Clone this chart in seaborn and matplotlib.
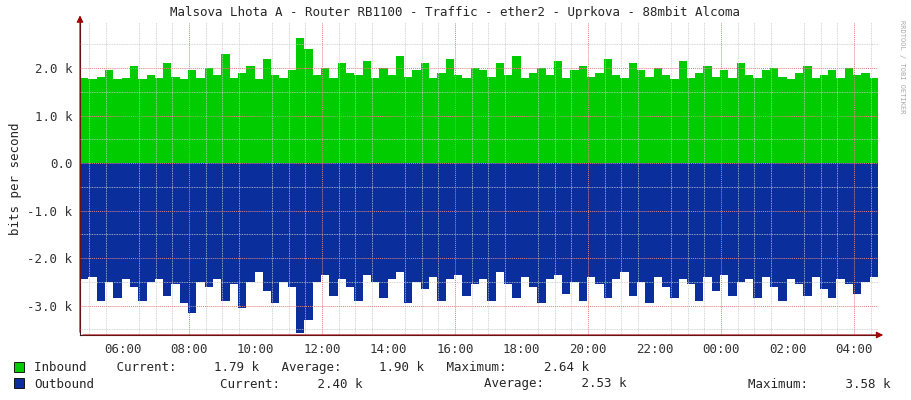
"""RRDtool-style traffic graph: inbound/outbound bits per second over 24 h."""

import matplotlib

matplotlib.use("Agg")

import matplotlib.pyplot as plt
import numpy as np
import seaborn as sns
from matplotlib.patches import Rectangle

sns.set_style("white")
plt.rcParams["font.family"] = ["DejaVu Sans Mono"]

# 15-minute samples, hours since midnight of day 1 (04:43 .. 04:41 next day)
START_HOUR = 4.72
STEP_HOURS = 0.25

INBOUND_K = [
    1.80, 1.78, 1.82, 1.95, 1.78, 1.80, 2.05, 1.78, 1.85, 1.80, 2.10, 1.82, 1.78, 1.95, 1.80, 2.00,
    1.85, 2.30, 1.80, 1.90, 2.05, 1.78, 2.20, 1.85, 1.80, 1.95, 2.64, 2.40, 1.85, 2.00, 1.80, 2.10,
    1.90, 1.85, 2.15, 1.80, 2.00, 1.85, 2.25, 1.82, 1.95, 2.10, 1.80, 1.90, 2.20, 1.85, 1.80, 2.00,
    1.95, 1.82, 2.10, 1.85, 2.25, 1.80, 1.90, 2.00, 1.85, 2.15, 1.80, 1.95, 2.05, 1.82, 1.90, 2.20,
    1.85, 1.80, 2.10, 1.95, 1.82, 2.00, 1.85, 1.78, 2.15, 1.80, 1.90, 2.05, 1.82, 1.95, 1.80, 2.10,
    1.85, 1.80, 1.95, 2.00, 1.82, 1.78, 1.90, 2.05, 1.80, 1.85, 1.95, 1.80, 2.00, 1.85, 1.90, 1.79,
]
OUTBOUND_K = [
    2.45, 2.40, 2.90, 2.50, 2.85, 2.45, 2.60, 2.90, 2.50, 2.45, 2.80, 2.55, 2.95, 3.15, 2.50, 2.60,
    2.45, 2.90, 2.55, 3.05, 2.50, 2.30, 2.70, 2.95, 2.50, 2.60, 3.58, 3.30, 2.50, 2.35, 2.80, 2.45,
    2.60, 2.90, 2.35, 2.50, 2.85, 2.45, 2.30, 2.95, 2.50, 2.65, 2.40, 2.90, 2.45, 2.35, 2.80, 2.55,
    2.45, 2.90, 2.30, 2.55, 2.85, 2.40, 2.60, 2.95, 2.45, 2.35, 2.75, 2.50, 2.90, 2.40, 2.55, 2.85,
    2.45, 2.30, 2.80, 2.50, 2.95, 2.40, 2.60, 2.85, 2.45, 2.55, 2.90, 2.40, 2.70, 2.35, 2.80, 2.50,
    2.45, 2.85, 2.40, 2.60, 2.90, 2.45, 2.55, 2.80, 2.40, 2.65, 2.85, 2.45, 2.55, 2.75, 2.50, 2.40,
]

TICK_HOURS = [6, 8, 10, 12, 14, 16, 18, 20, 22, 24, 26, 28]
TICK_LABELS = ["06:00", "08:00", "10:00", "12:00", "14:00", "16:00",
               "18:00", "20:00", "22:00", "00:00", "02:00", "04:00"]
Y_TICKS = [-3.0, -2.0, -1.0, 0.0, 1.0, 2.0]
Y_LABELS = ["-3.0 k", "-2.0 k", "-1.0 k", "0.0", "1.0 k", "2.0 k"]

GREEN = "#00CC00"
BLUE = "#0A2F9C"

inbound = np.array(INBOUND_K + INBOUND_K[-1:])
outbound = -np.array(OUTBOUND_K + OUTBOUND_K[-1:])
hours = START_HOUR + STEP_HOURS * np.arange(len(inbound))

fig = plt.figure(figsize=(9.11, 4.0), dpi=100)
ax = fig.add_axes([80 / 911, 65 / 400, 798 / 911, 313 / 400])

ax.fill_between(hours, 0, inbound, step="post", color=GREEN, linewidth=0, zorder=2)
ax.fill_between(hours, 0, outbound, step="post", color=BLUE, linewidth=0, zorder=2)

ax.set_xlim(hours[0], hours[-1])
ax.set_ylim(-3.62, 2.97)

ax.set_xticks(TICK_HOURS)
ax.set_xticklabels(TICK_LABELS)
ax.set_xticks(np.arange(5, 29, 0.5), minor=True)
ax.set_yticks(Y_TICKS)
ax.set_yticklabels(Y_LABELS)
ax.set_yticks(np.arange(-3.5, 3.0, 0.5), minor=True)

ax.grid(which="minor", color="#C8C8C8", linestyle=(0, (1, 1)), linewidth=0.6, zorder=3)
ax.grid(which="major", axis="y", color="#E08080", linestyle=(0, (1, 1)), linewidth=0.7, zorder=3)
ax.set_axisbelow(False)
for h in [8, 12, 16, 20, 24, 28]:
    ax.axvline(h, color="#E08080", linestyle=(0, (1, 1)), linewidth=0.7, zorder=3)

ax.tick_params(axis="both", labelsize=9, length=2, colors="#333333")
ax.set_ylabel("bits per second", fontsize=9)
for side in ["top", "right"]:
    ax.spines[side].set_visible(False)
ax.annotate("", xy=(1.01, 0), xytext=(0, 0), xycoords="axes fraction",
            arrowprops=dict(arrowstyle="-|>", color="#A00000", lw=0.8))
ax.annotate("", xy=(0, 1.03), xytext=(0, 0), xycoords="axes fraction",
            arrowprops=dict(arrowstyle="-|>", color="#A00000", lw=0.8))

fig.suptitle("Malsova Lhota A - Router RB1100 - Traffic - ether2 - Uprkova - 88mbit Alcoma",
             y=0.985, fontsize=9)
fig.text(0.993, 0.95, "RRDTOOL / TOBI OETIKER", rotation=270, fontsize=5,
         color="#AAAAAA", va="top", ha="right")

for y, color in [(362, GREEN), (378, BLUE)]:
    fig.patches.append(Rectangle((14 / 911, 1 - (y + 10) / 400), 10 / 911, 10 / 400,
                                 transform=fig.transFigure, facecolor=color,
                                 edgecolor="black", linewidth=0.6))
fig.text(34 / 911, 1 - 368 / 400,
         "Inbound    Current:     1.79 k   Average:     1.90 k   Maximum:     2.64 k",
         fontsize=9, va="center")
fig.text(34 / 911, 1 - 384 / 400, "Outbound", fontsize=9, va="center")
fig.text(220 / 911, 1 - 384 / 400, "Current:     2.40 k", fontsize=9, va="center")
fig.text(484 / 911, 1 - 384 / 400, "Average:     2.53 k", fontsize=9, va="center")
fig.text(748 / 911, 1 - 384 / 400, "Maximum:     3.58 k", fontsize=9, va="center")

fig.savefig("out.png", dpi=100)
